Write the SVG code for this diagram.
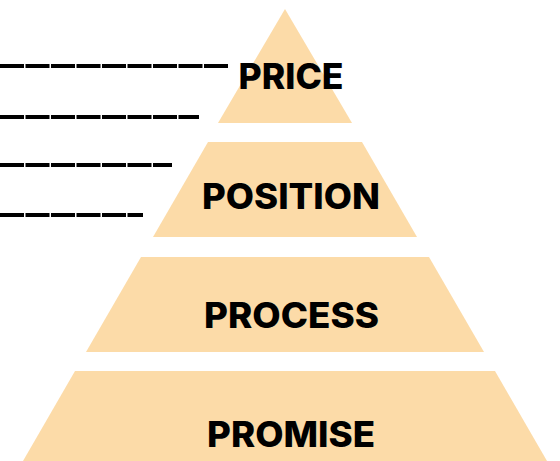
<svg xmlns="http://www.w3.org/2000/svg" width="560" height="461" viewBox="0 0 560 461">
<style>
.tier{fill:#FCDBA8}
.lbl{font-family:Inter,"Liberation Sans",Arial,sans-serif;font-weight:800;font-size:35px;fill:#000;text-anchor:middle}
.dash{stroke:#000;stroke-width:4;stroke-dasharray:24 1.5;fill:none}
</style>
<rect width="560" height="461" fill="#fff"/>
<g id="lines">
<line class="dash" x1="0" y1="66" x2="228" y2="66"/>
<line class="dash" x1="0" y1="117" x2="199" y2="117"/>
<line class="dash" x1="0" y1="165" x2="172" y2="165"/>
<line class="dash" x1="0" y1="215" x2="143" y2="215"/>
</g>
<g id="price">
<polygon class="tier" points="285,9 352,123 218,123"/>
<text class="lbl" x="291" y="89" textLength="105" lengthAdjust="spacingAndGlyphs">PRICE</text>
</g>
<g id="position">
<polygon class="tier" points="208,142 362,142 417,237 153,237"/>
<text class="lbl" x="291" y="209" textLength="178" lengthAdjust="spacingAndGlyphs">POSITION</text>
</g>
<g id="process">
<polygon class="tier" points="141,257 429,257 484,352 86,352"/>
<text class="lbl" x="291.5" y="328" textLength="175" lengthAdjust="spacingAndGlyphs">PROCESS</text>
</g>
<g id="promise">
<polygon class="tier" points="75,371 495,371 547,461 23,461"/>
<text class="lbl" x="291" y="447" textLength="168" lengthAdjust="spacingAndGlyphs">PROMISE</text>
</g>
</svg>
